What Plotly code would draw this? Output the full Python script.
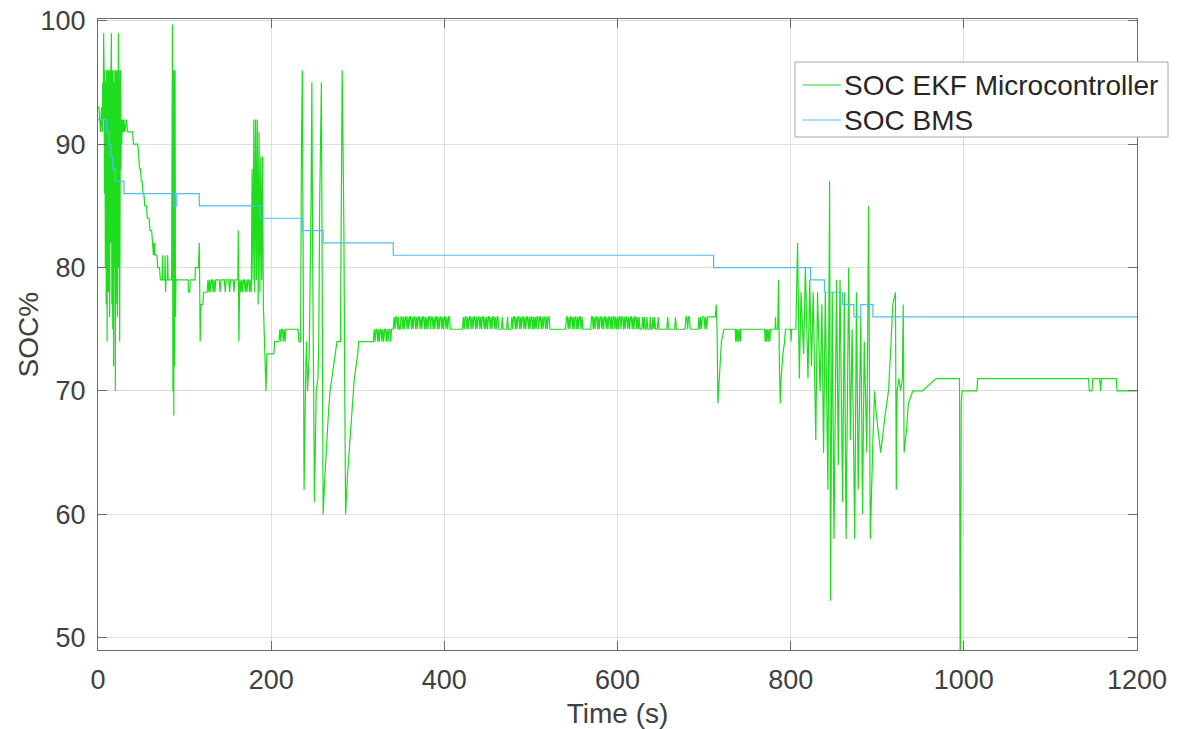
import plotly.graph_objects as go

# ---------------- data ----------------
# SOC BMS: step levels, each value holds from its time until the next time
bms_t = [0, 10, 13, 15, 17, 20, 30, 88, 91, 117, 187, 236, 260, 341, 711, 823, 839, 860, 873, 881, 895, 1200]
bms_v = [92, 91, 90, 89, 88, 87, 86, 85, 86, 85, 84, 83, 82, 81, 80, 79, 78, 77, 76, 77, 76, 76]

# SOC EKF: explicit samples (time s, SOC %)
ekf_t_a = [0, 1, 2, 3, 4, 5, 5.5, 6, 6.5, 7, 7.5, 8, 8.5, 9, 9.5, 10, 10.5, 11, 11.5, 12, 12.5, 13, 13.5,
           14, 14.5, 15, 15.5, 16, 16.5, 17, 17.5, 18, 18.5, 19, 19.5, 20, 20.5, 21, 21.5, 22, 22.5, 23,
           23.5, 24, 24.5, 25, 25.5, 26, 26.5, 27, 27.5, 28, 28.5, 29, 29.5,
           30, 31, 33, 34, 40, 41, 46, 47, 48, 49, 50, 51, 52, 53, 54, 56, 57, 59, 60, 62, 63, 64, 64.5,
           65, 65.5, 66, 68, 69, 71, 72, 74, 74.5, 75, 77, 77.5, 78, 78.5, 80, 80.5, 81, 85, 86, 86.5,
           87, 87.5, 88, 88.5, 89, 89.5, 90, 104, 104.5, 106, 106.5, 112, 112.5, 116, 117, 118, 119,
           121, 122, 125]
ekf_v_a = [93, 93, 92, 91, 93, 91, 95, 92, 99, 96, 86, 96, 80, 95, 77, 96, 74, 92, 96, 78, 96, 90, 76,
           96, 82, 96, 99, 77, 96, 75, 96, 72, 95, 80, 96, 70, 96, 77, 94, 96, 76, 96, 99, 80, 96, 74,
           92, 96, 88, 92, 90, 92, 91, 92, 91,
           92, 91, 92, 91, 91, 90, 90, 89, 88, 88, 87, 87, 86, 86, 85, 85, 84, 84, 83, 83, 82, 81, 82,
           81, 82, 81, 81, 80, 80, 79, 79, 81, 79, 79, 81, 78, 79, 79, 81, 79, 79, 99.7, 70,
           96, 68, 96, 72, 96, 76, 79, 79, 78, 78, 79, 79, 80, 80, 82, 74, 77,
           77, 78, 78]

ekf_t_b = [161.5, 162, 162.7, 163.5,
           177, 178, 179, 180, 181, 182, 183, 184, 185, 186, 187, 188, 189, 190, 191, 193, 194, 195,
           203, 204, 209]
ekf_v_b = [79, 83, 74, 78,
           78, 88, 79, 92, 78, 92, 79, 92, 77, 91, 78, 89, 79, 89, 77, 72, 70, 73,
           73, 74, 74]

ekf_t_c = [218, 231, 232, 234, 235, 236, 237, 238, 240, 241, 242, 244, 246, 247, 248, 250, 252, 254,
           255, 256, 258, 259, 260, 262, 264, 266, 268, 270, 272, 274, 276, 280, 281, 282, 283, 284,
           285, 286, 288, 290, 292, 294, 296, 298, 300, 301, 318]
ekf_v_c = [75, 75, 74, 74, 90, 96, 80, 62, 72, 74, 70, 73, 85, 95, 80, 61, 70, 71,
           74, 85, 95, 75, 60, 63, 66, 68, 70, 71, 72, 73, 74, 74, 85, 96, 90, 83,
           70, 60, 63, 65, 67, 69, 71, 72, 73, 74, 74]

ekf_t_d = [710, 713, 714, 715, 716, 718, 720, 723, 736, 736.5, 737.5, 738, 739, 740, 741, 742, 742.5,
           770, 770.5, 771.5, 772, 773, 774, 775, 776, 776.5, 782, 782.5, 783, 785, 786, 787, 788,
           789, 791, 793, 794, 800, 800.5, 801, 806,
           808, 810, 812, 815, 817, 820, 822, 824, 826, 829, 831, 834, 836, 838, 840, 843, 845, 846,
           848, 850, 853, 855, 857, 860, 862, 864, 867, 869, 871, 874, 876, 878, 881, 883, 885, 888,
           890, 892, 895, 897, 899, 902, 904, 909, 913, 916, 918, 921, 922, 923, 925, 927, 929, 930,
           931, 934, 936, 941, 952]
ekf_v_d = [76, 76, 77, 75, 69, 72, 74, 75, 75, 74, 75, 74, 75, 74, 75, 74, 75,
           75, 74, 75, 74, 75, 74, 75, 74, 75, 75, 76, 75, 75, 79, 72, 69,
           71, 73, 74, 75, 75, 74, 75, 75,
           82, 71, 78, 73, 80, 71, 79, 72, 78, 66, 78, 70, 77, 65, 78, 62, 87, 53,
           78, 58, 79, 64, 79, 61, 78, 58, 80, 66, 75, 58, 78, 62, 76, 60, 74, 65,
           85, 58, 66, 70, 68, 66, 65, 68, 70, 74, 77, 78, 62, 70, 71, 70, 71, 77,
           65, 67, 69, 70, 70]

ekf_t_e = [968, 995, 996, 997, 998, 1015, 1016, 1144, 1145, 1148, 1149, 1157, 1158, 1159, 1176, 1177, 1200]
ekf_v_e = [71, 71, 40, 69, 70, 70, 71, 71, 70, 70, 71, 71, 70, 71, 71, 70, 70]

# SOC EKF: dense one-sample-per-second toggling stretches (start s, base %, pattern of +0/+1)
ekf_toggles = [
    (126, 78, "010101101011111011111011110111101111"),
    (164, 78, "1010110101101"),
    (210, 74, "10110101"),
    (319, 74, "1011010110101101011011"),
    (341, 75, "01011010"),
    (349, 75, "0110101101011010110101101011010101101101011010110101101011"),
    (407, 75, "00000000000000"),
    (421, 75, "0101101011010110101101011010101101011010110"),
    (464, 75, "000100000100001"),
    (479, 75, "01101011010110101101011010101101101011010110"),
    (523, 75, "00000000000000000"),
    (540, 75, "011010110101101011010"),
    (561, 75, "00000000"),
    (569, 75, "0110101101011010110101101011010101101101011010110101101"),
    (624, 75, "01000101001000100101000100"),
    (650, 75, "0000000010000000010000000"),
    (675, 75, "0000110110000000000"),
    (693, 75, "01010111010111111"),
]

series_names = ["SOC EKF Microcontroller", "SOC BMS"]
series_colors = ["#1fdc1f", "#4DBEEE"]

# ---------------- build series ----------------
pts = list(zip(ekf_t_a, ekf_v_a)) + list(zip(ekf_t_b, ekf_v_b)) + list(zip(ekf_t_c, ekf_v_c)) \
    + list(zip(ekf_t_d, ekf_v_d)) + list(zip(ekf_t_e, ekf_v_e))
for s, base, bits in ekf_toggles:
    for k, c in enumerate(bits):
        pts.append((s + k, base + int(c)))
pts.sort(key=lambda p: p[0])
ekf_t = [p[0] for p in pts]
ekf_v = [p[1] for p in pts]

fig = go.Figure()
fig.add_trace(go.Scatter(x=ekf_t, y=ekf_v, mode="lines", name=series_names[0],
                         line=dict(color=series_colors[0], width=1.2)))
fig.add_trace(go.Scatter(x=bms_t, y=bms_v, mode="lines", name=series_names[1], line_shape="hv",
                         line=dict(color=series_colors[1], width=1.2)))

font_family = "Liberation Sans, Arial, sans-serif"
axis_common = dict(showline=True, linecolor="#6b6b6b", linewidth=1, mirror="ticks",
                   ticks="inside", ticklen=9, tickcolor="#6b6b6b",
                   showgrid=True, gridcolor="#dedede", gridwidth=1, zeroline=False,
                   automargin=False,
                   tickfont=dict(family=font_family, size=27, color="#404040"),
                   title_font=dict(family=font_family, size=28, color="#404040"))

# legend box (MATLAB-style, drawn in paper coordinates)
L, R, T, B = 98, 1137, 19, 650          # plot-area pixel edges
def px(xp): return (xp - L) / (R - L)
def py(yp): return (B - yp) / (B - T)

shapes = [dict(type="rect", xref="paper", yref="paper", x0=px(795), x1=px(1168), y0=py(137), y1=py(62),
               line=dict(color="#a6a6a6", width=1), fillcolor="white", layer="above")]
annotations = []
for i, (nm, col) in enumerate(zip(series_names, series_colors)):
    yrow = 85 + 35 * i
    shapes.append(dict(type="line", xref="paper", yref="paper", x0=px(803), x1=px(841),
                       y0=py(yrow), y1=py(yrow), line=dict(color=col, width=1.2), layer="above"))
    annotations.append(dict(xref="paper", yref="paper", x=px(842), y=py(yrow), text=nm,
                            showarrow=False, xanchor="left", yanchor="middle",
                            font=dict(family=font_family, size=28, color="#262626")))
annotations.append(dict(xref="paper", yref="paper", x=px(28), y=0.5, text="SOC%", textangle=-90,
                        showarrow=False, xanchor="center", yanchor="middle",
                        font=dict(family=font_family, size=28, color="#404040")))

fig.update_layout(
    width=1177, height=729,
    margin=dict(l=98, r=40, t=19, b=79),
    paper_bgcolor="white", plot_bgcolor="white",
    font=dict(family=font_family),
    xaxis=dict(range=[0, 1200], tickvals=[0, 200, 400, 600, 800, 1000, 1200],
               title=dict(text="Time (s)", standoff=10), ticklabelstandoff=6, **axis_common),
    yaxis=dict(range=[49, 100.15], tickvals=[50, 60, 70, 80, 90, 100],
               ticklabelstandoff=6, **axis_common),
    shapes=shapes,
    annotations=annotations,
    showlegend=False,
)

fig.write_html("out.html")
